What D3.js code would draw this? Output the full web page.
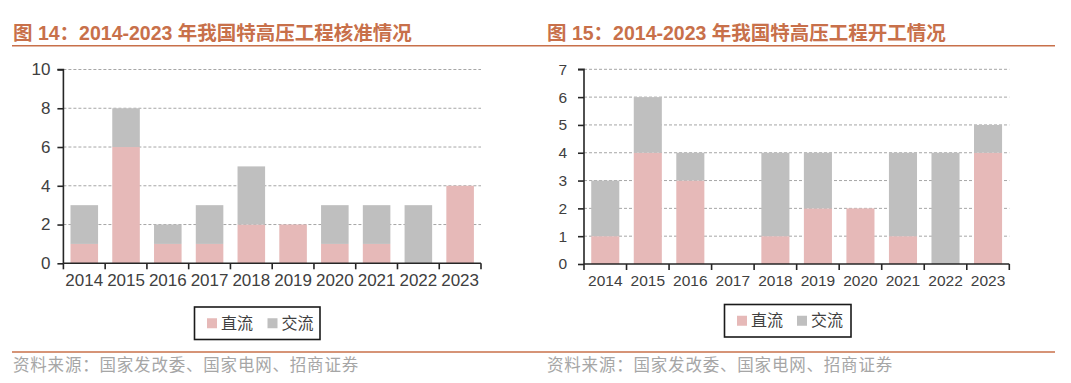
<!DOCTYPE html>
<html><head><meta charset="utf-8">
<script src="https://cdn.jsdelivr.net/npm/d3@7"></script>
<style>body{margin:0;background:#fff}svg{display:block}</style>
</head><body>
<svg id="c" width="1071" height="383"></svg>
<script>
const years = ["2014","2015","2016","2017","2018","2019","2020","2021","2022","2023"];
const approvedDC = [1,6,1,1,2,2,1,1,0,4];
const approvedAC = [2,2,1,2,3,0,2,2,3,0];
const startedDC = [1,4,3,0,1,2,2,1,0,4];
const startedAC = [2,2,1,0,3,2,0,3,4,1];
const seriesNames = ["直流","交流"];
const colors = ["#E6B9B8","#BFBFBF"];
const title1 = "图 14：2014-2023 年我国特高压工程核准情况";
const title2 = "图 15：2014-2023 年我国特高压工程开工情况";
const source = "资料来源：国家发改委、国家电网、招商证券";
const ticks1 = [0,2,4,6,8,10];
const ticks2 = [0,1,2,3,4,5,6,7];

const svg = d3.select("#c");
const orange = "#C8704A";
const cjk = "'Noto Sans CJK SC', sans-serif";
const latin = "'Liberation Sans', Arial, sans-serif";

// header and footer rules
svg.append("line").attr("x1",12).attr("x2",1055).attr("y1",45.8).attr("y2",45.8)
  .attr("stroke",orange).attr("stroke-width",1.6);
svg.append("line").attr("x1",12).attr("x2",1055).attr("y1",352).attr("y2",352)
  .attr("stroke",orange).attr("stroke-width",1.6);

function panel(cfg){
  const g = svg.append("g");
  g.append("text").attr("x",cfg.titleX).attr("y",39.5)
    .attr("font-family",latin+","+cjk).attr("font-weight","bold")
    .attr("font-size",19.5).attr("fill",orange).text(cfg.title);
  g.append("text").attr("x",cfg.titleX).attr("y",371)
    .attr("font-family",cjk).attr("font-size",16.5).attr("fill","#A6A6A6")
    .attr("letter-spacing",0.8).text(source);

  const x = d3.scaleBand().domain(years).range([cfg.x0,cfg.x1]).paddingInner(0.34).paddingOuter(0.17);
  const y = d3.scaleLinear().domain([0,cfg.max]).range([cfg.y0,cfg.y1]);

  // grid
  g.append("g").selectAll("line").data(cfg.ticks.filter(t=>t>0)).join("line")
    .attr("x1",cfg.x0).attr("x2",cfg.x1).attr("y1",d=>y(d)).attr("y2",d=>y(d))
    .attr("stroke","#A6A6A6").attr("stroke-width",1).attr("stroke-dasharray","3,2");

  const data = years.map((yr,i)=>({yr, dc:cfg.dc[i], ac:cfg.ac[i]}));
  const stack = d3.stack().keys(["dc","ac"])(data);
  g.append("g").selectAll("g").data(stack).join("g").attr("fill",(d,i)=>colors[i])
    .selectAll("rect").data(d=>d).join("rect")
    .attr("x",d=>x(d.data.yr)).attr("width",x.bandwidth())
    .attr("y",d=>y(d[1])).attr("height",d=>y(d[0])-y(d[1]));

  // y axis
  const ya = g.append("g").attr("transform",`translate(${cfg.x0},0)`)
    .call(d3.axisLeft(y).tickValues(cfg.ticks).tickFormat(d3.format("d")).tickSize(6).tickPadding(cfg.yPad));
  ya.select(".domain").attr("stroke","#262626").attr("stroke-width",1.6).attr("d",`M-6,${cfg.y1}H0V${cfg.y0}`);
  ya.selectAll(".tick line").attr("stroke","#262626").attr("stroke-width",1.6);
  ya.selectAll("text").attr("font-family",latin).attr("font-size",cfg.fs).attr("fill","#404040");

  // x axis
  const xa = g.append("g").attr("transform",`translate(0,${cfg.y0})`)
    .call(d3.axisBottom(x).tickSize(0).tickPadding(cfg.xPad));
  xa.select(".domain").attr("stroke","#262626").attr("stroke-width",1.6).attr("d",`M${cfg.x0},0H${cfg.x1}`);
  xa.selectAll("text").attr("font-family",latin).attr("font-size",cfg.fs).attr("fill","#404040");
  const edges = years.map(d=>x(d)-x.step()*x.paddingInner()/2).concat([cfg.x1]);
  xa.append("g").selectAll("line").data(edges).join("line")
    .attr("x1",d=>d).attr("x2",d=>d).attr("y1",0).attr("y2",6)
    .attr("stroke","#262626").attr("stroke-width",1.6);

  // legend
  const L = cfg.legend;
  g.append("rect").attr("x",L.x).attr("y",L.y).attr("width",L.w).attr("height",L.h)
    .attr("fill","#fff").attr("stroke","#1a1a1a").attr("stroke-width",1.6);
  const items = g.append("g").selectAll("g").data(seriesNames).join("g")
    .attr("transform",(d,i)=>`translate(${L.x+L.pad+i*L.step},${L.y+L.h/2})`);
  items.append("rect").attr("x",0).attr("y",-5).attr("width",10).attr("height",10).attr("fill",(d,i)=>colors[i]);
  items.append("text").attr("x",14).attr("y",5.5).attr("font-family",cjk)
    .attr("font-size",16).attr("fill","#404040").text(d=>d);
}

panel({title:title1,titleX:13,dc:approvedDC,ac:approvedAC,max:10,ticks:ticks1,
  x0:63.4,x1:481,y0:263.3,y1:69.5,fs:17,yPad:7,xPad:11,
  legend:{x:194.5,y:307,w:125.5,h:32.5,pad:12.5,step:60.5}});
panel({title:title2,titleX:547,dc:startedDC,ac:startedAC,max:7,ticks:ticks2,
  x0:584,x1:1009.3,y0:264,y1:69.3,fs:15.5,yPad:11,xPad:11,
  legend:{x:724.5,y:304.5,w:126.5,h:32.5,pad:12.5,step:60}});
</script>
</body></html>
